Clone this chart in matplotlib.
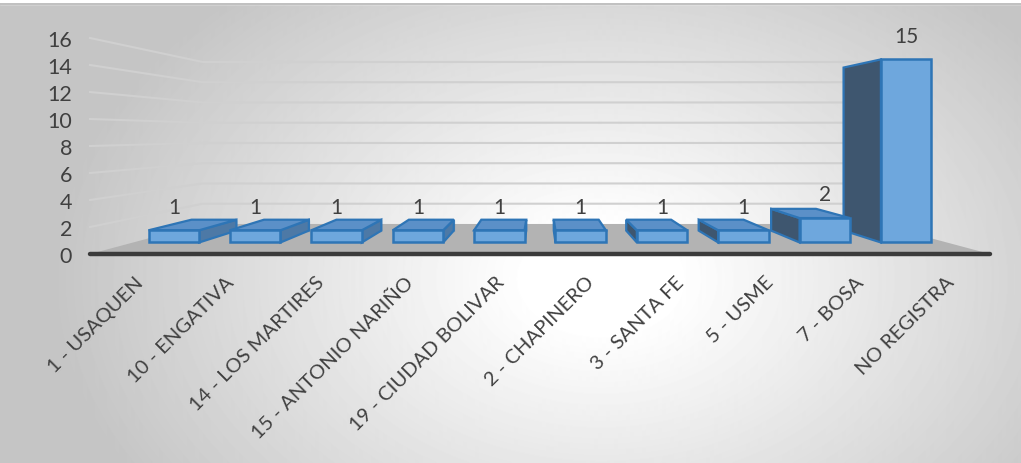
import numpy as np
import matplotlib
matplotlib.use("Agg")
import matplotlib.pyplot as plt
from matplotlib.patches import Polygon
from matplotlib.transforms import ScaledTranslation

plt.rcParams["font.family"] = ["Lato", "DejaVu Sans"]

# localidades y número de casos
categories = [
    "1 - USAQUEN", "10 - ENGATIVA", "14 - LOS MARTIRES", "15 - ANTONIO NARIÑO",
    "19 - CIUDAD BOLIVAR", "2 - CHAPINERO", "3 - SANTA FE", "5 - USME",
    "7 - BOSA", "NO REGISTRA",
]
values = [1, 1, 1, 1, 1, 1, 1, 1, 2, 15]
yticks = [0, 2, 4, 6, 8, 10, 12, 14, 16]

W, H = 1021, 464
TEXT = "#404040"
EDGE = "#2e75b6"
FRONT = "#6ea7dd"
TOP = "#5b90c8"
SIDE_R = "#4d79a6"
SIDE_L = "#3e566f"

# fake perspective: vanishing point and depth scales (1 = front plane)
VX, VY = 4.5, 8.9
S_WALL, S_BF, S_BB = 0.75, 0.904, 0.805
BAR_W = 0.62


def proj(x, y, s):
    return (VX + (x - VX) * s, VY + (y - VY) * s)


fig = plt.figure(figsize=(W / 100, H / 100), dpi=100)

# radial background
bg = fig.add_axes([0, 0, 1, 1], zorder=-10)
yy, xx = np.mgrid[0:H, 0:W]
r = np.sqrt(((xx - 600) / (W * 0.62)) ** 2 + ((yy - 280) / (H * 0.95)) ** 2)
t = np.clip((r - 0.12) / 0.75, 0, 1)
shade = 1.0 - t * (1.0 - 0.77)
bg.imshow(shade, cmap="gray", vmin=0, vmax=1, extent=(0, W, H, 0), aspect="auto")
bg.fill_between([0, W], 0, 5, color="white")
bg.plot([0, W], [5, 5], color="#b5b5b5", lw=1.2)
bg.set_xlim(0, W)
bg.set_ylim(H, 0)
bg.axis("off")

ax = fig.add_axes([90 / W, (H - 255) / H, 900 / W, 216 / H])
ax.set_xlim(-0.5, 9.5)
ax.set_ylim(0, 16)
ax.patch.set_visible(False)
for sp in ax.spines.values():
    sp.set_visible(False)

# gridlines: side wall then back wall
for v in yticks[1:]:
    pts = [(-0.5, v), proj(-0.5, v, S_WALL), proj(9.5, v, S_WALL)]
    ax.plot(*zip(*pts), color="#d0d0d0", lw=1.5, clip_on=False, zorder=1)

# floor
floor = [(-0.5, 0), (9.5, 0), proj(9.5, 0, S_WALL), proj(-0.5, 0, S_WALL)]
ax.add_patch(Polygon(floor, closed=True, fc="#b3b3b3", ec="none", clip_on=False, zorder=2))
ax.plot([-0.5, 9.5], [0, 0], color="#3b3b3b", lw=3.2, solid_capstyle="round",
        clip_on=False, zorder=3)

# bars, farthest from the vanishing point first
order = sorted(range(len(values)), key=lambda i: -abs(i - VX))
for i in order:
    v = values[i]
    x0, x1 = i - BAR_W / 2, i + BAR_W / 2
    z = 4
    back = [proj(x0, 0, S_BB), proj(x1, 0, S_BB), proj(x1, v, S_BB), proj(x0, v, S_BB)]
    ax.add_patch(Polygon(back, closed=True, fc="none", ec=EDGE, lw=1.0, alpha=0.35,
                         clip_on=False, zorder=z))
    if x1 < VX:
        side = [proj(x1, 0, S_BF), proj(x1, v, S_BF), proj(x1, v, S_BB), proj(x1, 0, S_BB)]
        ax.add_patch(Polygon(side, closed=True, fc=SIDE_R, ec=EDGE, lw=1.6,
                             clip_on=False, zorder=z))
    elif x0 > VX:
        side = [proj(x0, 0, S_BF), proj(x0, v, S_BF), proj(x0, v, S_BB), proj(x0, 0, S_BB)]
        ax.add_patch(Polygon(side, closed=True, fc=SIDE_L, ec=EDGE, lw=1.6,
                             clip_on=False, zorder=z))
    if v < VY:
        top = [proj(x0, v, S_BF), proj(x1, v, S_BF), proj(x1, v, S_BB), proj(x0, v, S_BB)]
        ax.add_patch(Polygon(top, closed=True, fc=TOP, ec=EDGE, lw=1.6,
                             clip_on=False, zorder=z))
    front = [proj(x0, 0, S_BF), proj(x1, 0, S_BF), proj(x1, v, S_BF), proj(x0, v, S_BF)]
    ax.add_patch(Polygon(front, closed=True, fc=FRONT, ec=EDGE, lw=1.8,
                         clip_on=False, zorder=z))
    ax.annotate(str(v), proj(i, v, S_BF), xytext=(0, 17), textcoords="offset points",
                ha="center", va="center", fontsize=15, color=TEXT,
                annotation_clip=False, zorder=6)

ax.set_yticks(yticks)
ax.set_yticklabels([str(t) for t in yticks])
ax.set_xticks(range(len(categories)))
ax.set_xticklabels(categories, rotation=45, ha="right", va="center",
                   rotation_mode="anchor")
ax.tick_params(axis="y", length=0, pad=13, labelsize=15.5, labelcolor=TEXT)
ax.tick_params(axis="x", length=0, pad=18, labelsize=14.5, labelcolor=TEXT)
shift = ScaledTranslation(6 / 100, 0, fig.dpi_scale_trans)
for lab in ax.get_xticklabels():
    lab.set_transform(lab.get_transform() + shift)

fig.savefig("out.png", dpi=100)
